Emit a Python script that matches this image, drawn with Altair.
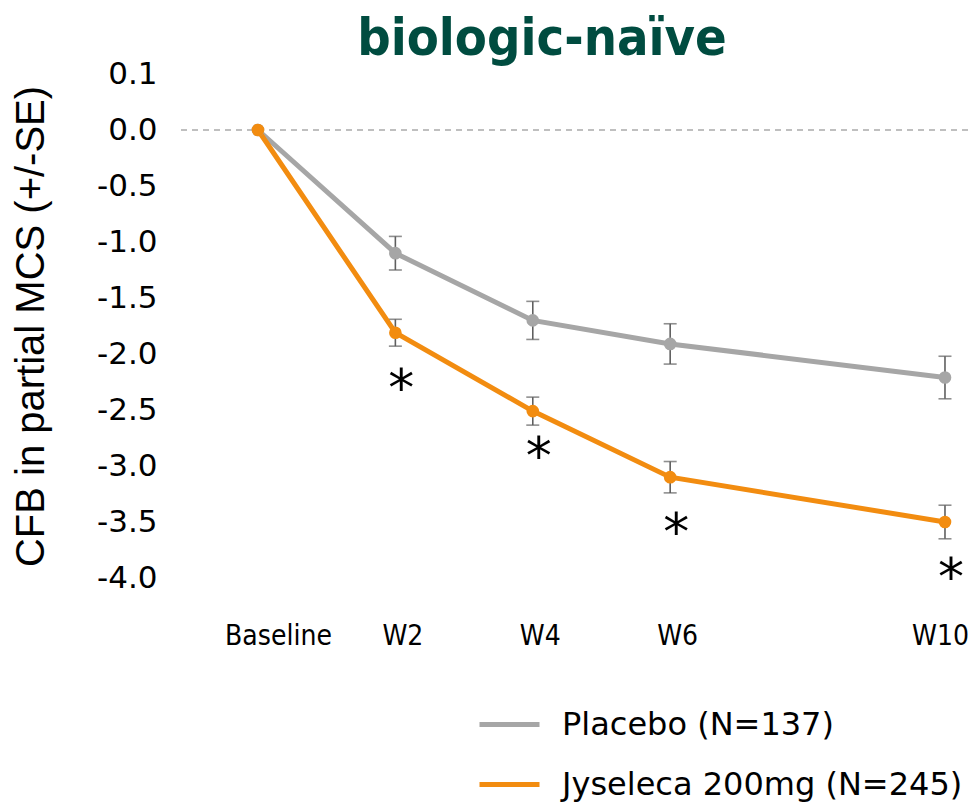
import altair as alt
import pandas as pd

weeks = [0, 2, 4, 6, 10]
placebo = [0.0, -1.10, -1.70, -1.91, -2.21]
placebo_se = [0.0, 0.15, 0.17, 0.18, 0.19]
jyseleca = [0.0, -1.81, -2.51, -3.10, -3.50]
jyseleca_se = [0.0, 0.12, 0.125, 0.14, 0.15]
star_weeks = [2, 4, 6, 10]
star_y = [-2.25, -2.86, -3.54, -3.94]
y_ticks = [0.5, 0.0, -0.5, -1.0, -1.5, -2.0, -2.5, -3.0, -3.5, -4.0]

PLAB = "Placebo (N=137)"
JLAB = "Jyseleca 200mg (N=245)"
GRAY = "#a6a6a6"
ORANGE = "#f28c10"
ERR = "#5f5f5f"

rows = []
for w, v, s in zip(weeks, placebo, placebo_se):
    rows.append({"week": w, "value": v, "lo": v - s, "hi": v + s, "series": PLAB})
for w, v, s in zip(weeks, jyseleca, jyseleca_se):
    rows.append({"week": w, "value": v, "lo": v - s, "hi": v + s, "series": JLAB})
df = pd.DataFrame(rows)
stars = pd.DataFrame({"week": star_weeks, "y": star_y, "t": ["*"] * len(star_weeks)})

xscale = alt.Scale(domain=[-1.164, 10.335], nice=False, zero=False)
yscale = alt.Scale(domain=[-4.0, 0.5], nice=False, zero=False)

xaxis = alt.Axis(values=weeks, labelExpr="datum.value == 0 ? 'Baseline' : 'W' + datum.value",
                 domain=False, ticks=False, grid=False, title=None,
                 labelFont="DejaVu Sans Condensed, DejaVu Sans, sans-serif",
                 labelFontSize=28, labelColor="black", labelPadding=44,
                 labelOffset={"condition": [{"test": "datum.value == 0", "value": 20},
                                            {"test": "datum.value == 10", "value": -5}],
                              "value": 7})
yaxis = alt.Axis(values=y_ticks,
                 labelExpr="datum.value == 0.5 ? '0.1' : (datum.value < 0 ? '-' : '') + format(abs(datum.value), '.1f')",
                 domain=False, ticks=False, grid=False,
                 title="CFB in partial MCS (+/-SE)",
                 labelFont="DejaVu Sans", labelFontSize=31, labelColor="black", labelPadding=21,
                 titleFont="Liberation Sans, Arial, sans-serif", titleFontSize=40, titleFontWeight="normal",
                 titleColor="black", titlePadding=45)

color = alt.Color("series:N", scale=alt.Scale(domain=[PLAB, JLAB], range=[GRAY, ORANGE]),
                  legend=alt.Legend(title=None, orient="none", legendX=299, legendY=618,
                                    symbolType="stroke", symbolSize=3600, symbolStrokeWidth=5,
                                    labelFont="DejaVu Sans", labelFontSize=32, labelColor="black",
                                    labelOffset=20, rowPadding=11, padding=0, labelLimit=0))

base = alt.Chart(df)
x = alt.X("week:Q", scale=xscale, axis=xaxis)
y = alt.Y("value:Q", scale=yscale, axis=yaxis)

zero = alt.Chart(pd.DataFrame({"z": [0.0]})).mark_rule(color="#aaaaaa", strokeWidth=1.5, strokeDash=[6, 5]).encode(
    y=alt.Y("z:Q", scale=yscale, axis=yaxis))

eb = base.transform_filter("datum.week > 0")
err_rule = eb.mark_rule(color=ERR, strokeWidth=1.6).encode(x=x, y=alt.Y("lo:Q", scale=yscale, axis=yaxis), y2="hi:Q")
err_lo = eb.mark_tick(color=ERR, orient="horizontal", size=13, thickness=1.6).encode(x=x, y=alt.Y("lo:Q", scale=yscale, axis=yaxis))
err_hi = eb.mark_tick(color=ERR, orient="horizontal", size=13, thickness=1.6).encode(x=x, y=alt.Y("hi:Q", scale=yscale, axis=yaxis))

pl = base.transform_filter(alt.datum.series == PLAB)
jl = base.transform_filter(alt.datum.series == JLAB)
line_p = pl.mark_line(strokeWidth=5).encode(x=x, y=y, color=color)
line_j = jl.mark_line(strokeWidth=5).encode(x=x, y=y, color=color)
pt_p = pl.mark_point(filled=True, size=160, opacity=1).encode(x=x, y=y, color=color)
pt_j = jl.mark_point(filled=True, size=160, opacity=1).encode(x=x, y=y, color=color)

star_layer = alt.Chart(stars).mark_text(font="DejaVu Sans", fontSize=52, color="black", baseline="middle", dx=6, dy=8).encode(
    x=alt.X("week:Q", scale=xscale, axis=xaxis), y=alt.Y("y:Q", scale=yscale, axis=yaxis), text="t:N")

chart = alt.layer(zero, err_rule, err_lo, err_hi, line_p, line_j, pt_p, pt_j, star_layer).properties(
    width=790, height=504,
    title=alt.TitleParams("biologic-naïve", font="DejaVu Sans Condensed, DejaVu Sans", fontSize=52,
                          fontWeight="bold", color="#004c40", anchor="middle", dx=-31, dy=12, offset=4),
    autosize=alt.AutoSizeParams(type="none"),
    padding={"left": 170, "top": 66, "right": 0, "bottom": 225},
).configure_view(stroke=None)

chart.save("out.html", embed_options={"renderer": "svg", "actions": False})
